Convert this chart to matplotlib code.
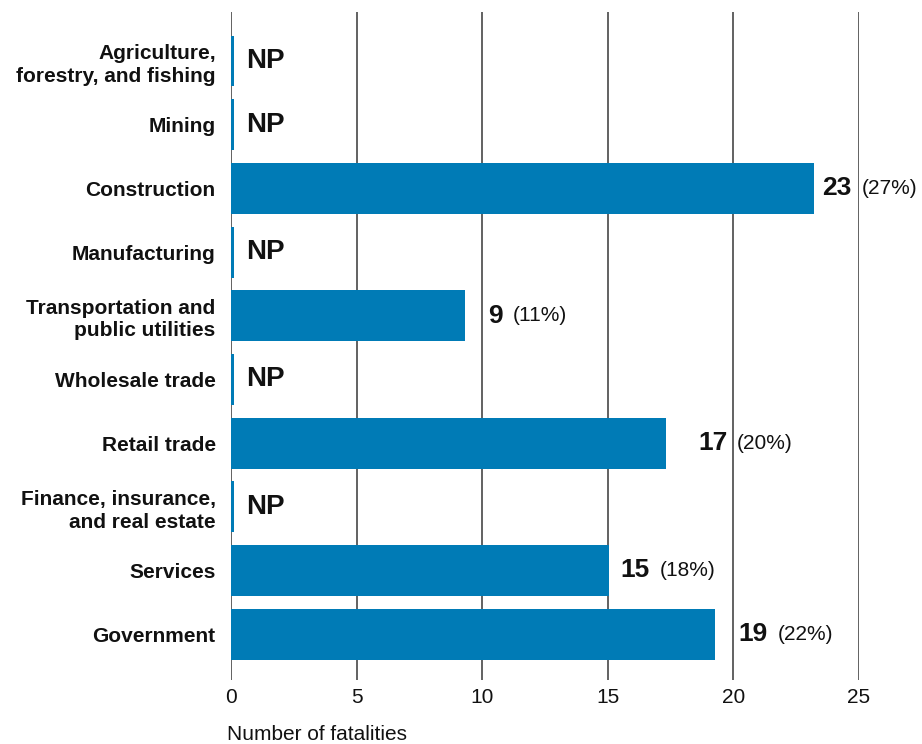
import matplotlib
matplotlib.use("Agg")
import matplotlib.pyplot as plt

# Data
industries = [
    "Agriculture,\nforestry, and fishing",
    "Mining",
    "Construction",
    "Manufacturing",
    "Transportation and\npublic utilities",
    "Wholesale trade",
    "Retail trade",
    "Finance, insurance,\nand real estate",
    "Services",
    "Government",
]
# bar lengths as drawn (NP = not publishable, drawn as a sliver)
fatalities = [0.12, 0.12, 23.2, 0.12, 9.3, 0.12, 17.3, 0.12, 15.05, 19.25]
count_labels = ["NP", "NP", "23", "NP", "9", "NP", "17", "NP", "15", "19"]
pct_labels = ["", "", "(27%)", "", "(11%)", "", "(20%)", "", "(18%)", "(22%)"]

# Layout: x position (data units) where each value label starts
label_x = [0.6, 0.6, 23.55, 0.6, 10.25, 0.6, 18.6, 0.6, 15.5, 20.2]

BAR_COLOR = "#007bb6"
LINE_COLOR = "#555555"
TEXT_COLOR = "#111111"

plt.rcParams["font.family"] = ["Liberation Sans", "DejaVu Sans"]

fig = plt.figure(figsize=(9.22, 7.44), dpi=100)
ax = fig.add_axes([0.2505, 0.086, 0.6812, 0.8979])

ypos = list(range(len(industries)))
ax.barh(ypos, fatalities, height=0.8, color=BAR_COLOR, zorder=3)

for x in [0, 5, 10, 15, 20, 25]:
    ax.axvline(x, color=LINE_COLOR, linewidth=1.3, zorder=2)

ax.set_xlim(0, 25)
ax.set_ylim(9.72, -0.77)
ax.set_yticks(ypos)
ax.set_yticklabels(industries, fontweight="bold", fontsize=15,
                   linespacing=1.25, color=TEXT_COLOR)
ax.set_xticks([0, 5, 10, 15, 20, 25])
ax.set_xticklabels(["0", "5", "10", "15", "20", "25"], fontsize=15, color=TEXT_COLOR)
ax.tick_params(axis="y", length=0, pad=11)
ax.tick_params(axis="x", length=0, pad=6)
for s in ax.spines.values():
    s.set_visible(False)

for y, lx, cnt, pct in zip(ypos, label_x, count_labels, pct_labels):
    t = ax.text(lx, y, cnt, fontsize=20 if cnt == "NP" else 19, fontweight="bold",
                va="center", ha="left", color=TEXT_COLOR, zorder=4, clip_on=False)
    if pct:
        ax.annotate(pct, xycoords=t, xy=(1, 0.5), xytext=(7, 0), textcoords="offset points",
                    va="center", ha="left", fontsize=15, color=TEXT_COLOR, zorder=4,
                    annotation_clip=False)

fig.text(227 / 922, 1 - 735 / 744, "Number of fatalities", fontsize=15,
         va="center", ha="left", color=TEXT_COLOR)

fig.savefig("out.png", dpi=100)
